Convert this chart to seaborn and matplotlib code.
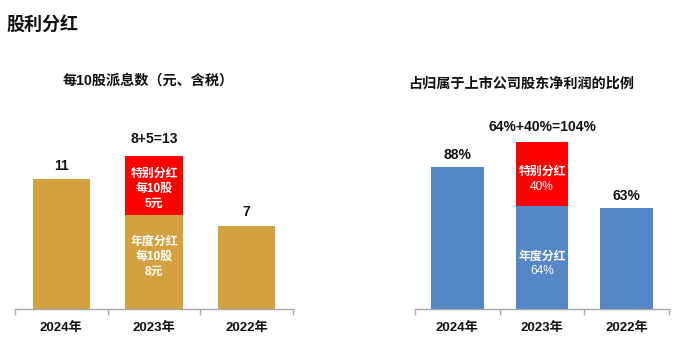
import numpy as np
import pandas as pd
import matplotlib
matplotlib.use("Agg")
import matplotlib.pyplot as plt
import seaborn as sns

sns.set_theme(style="white")
plt.rcParams['font.family'] = ['Liberation Sans', 'Noto Sans CJK SC', 'DejaVu Sans']

years = ['2024年', '2023年', '2022年']
annual_div = [11, 8, 7]        # 每10股派息（元）
special_div = [0, 5, 0]
annual_ratio = [88, 64, 63]    # 占净利润比例（%）
special_ratio = [0, 40, 0]

gold = '#D4A140'
blue = '#5586C6'
red = '#FF0000'

fig = plt.figure(figsize=(6.83, 3.57), dpi=100)
ax1 = fig.add_axes([15 / 683, 1 - 309 / 357, 278 / 683, 177 / 357])
ax2 = fig.add_axes([415 / 683, 1 - 309 / 357, 254 / 683, 177 / 357])


def stacked(ax, base, extra, color, ymax):
    df = pd.DataFrame({'year': years, 'base': base,
                       'total': np.array(base) + np.array(extra)})
    top_colors = [red if e > 0 else color for e in extra]
    sns.barplot(data=df, x='year', y='total', hue='year', palette=top_colors,
                legend=False, width=0.62, ax=ax, saturation=1, linewidth=0)
    sns.barplot(data=df, x='year', y='base', color=color, width=0.62,
                ax=ax, saturation=1, linewidth=0)
    ax.set_ylim(0, ymax)
    ax.set_xlim(-0.5, 2.5)
    ax.set_xlabel('')
    ax.set_ylabel('')
    ax.set_yticks([])
    for s in ['left', 'top', 'right']:
        ax.spines[s].set_visible(False)
    ax.spines['bottom'].set_color('#A6A6A6')
    ax.spines['bottom'].set_linewidth(1)
    ax.set_xticks([0, 1, 2])
    ax.set_xticklabels(years, fontsize=9.5, fontweight='bold', color='#111111')
    ax.set_xticks([-0.5, 0.5, 1.5, 2.5], minor=True)
    ax.tick_params(axis='x', which='major', length=0, pad=9)
    ax.tick_params(axis='x', which='minor', length=4, color='#A6A6A6',
                   width=1, bottom=True)
    return df


stacked(ax1, annual_div, special_div, gold, 15)
stacked(ax2, annual_ratio, special_ratio, blue, 110)

lab = dict(ha='center', va='center', fontsize=10, fontweight='bold', color='#111111')
pxl = 1 / 11.8
ax1.text(0, annual_div[0] + 13 * pxl, f'{annual_div[0]}', **lab)
ax1.text(1, annual_div[1] + special_div[1] + 17 * pxl,
         f'{annual_div[1]}+{special_div[1]}={annual_div[1] + special_div[1]}', **lab)
ax1.text(2, annual_div[2] + 14 * pxl, f'{annual_div[2]}', **lab)


def lines(ax, y, rows, weights):
    # stack text rows 15 px apart around data position y
    n = len(rows)
    for k, (r, w) in enumerate(zip(rows, weights)):
        dy = ((n - 1) / 2 - k) * 15 * 0.72
        ax.annotate(r, (1, y), xytext=(0, dy), textcoords='offset points',
                    ha='center', va='center', fontsize=8.6, fontweight=w,
                    color='white')


lines(ax1, 10.2, ['特别分红', '每10股', f'{special_div[1]}元'], ['bold'] * 3)
lines(ax1, 4.4, ['年度分红', '每10股', f'{annual_div[1]}元'], ['bold'] * 3)

pxr = 1 / 1.61
ax2.text(0, annual_ratio[0] + 12 * pxr, f'{annual_ratio[0]}%', **lab)
ax2.text(1, annual_ratio[1] + special_ratio[1] + 15 * pxr,
         f'{annual_ratio[1]}%+{special_ratio[1]}%={annual_ratio[1] + special_ratio[1]}%', **lab)
ax2.text(2, annual_ratio[2] + 12 * pxr, f'{annual_ratio[2]}%', **lab)

lines(ax2, 80.4, ['特别分红', f'{special_ratio[1]}%'], ['bold', 'normal'])
lines(ax2, 28, ['年度分红', f'{annual_ratio[1]}%'], ['bold', 'normal'])

fig.text(6 / 683, 1 - 25 / 357, '股利分红', ha='left', va='center',
         fontsize=13, fontweight='bold', color='#111111')
fig.text(148 / 683, 1 - 81 / 357, '每10股派息数（元、含税）', ha='center',
         va='center', fontsize=10.2, fontweight='bold', color='#111111')
fig.text(521 / 683, 1 - 84 / 357, '占归属于上市公司股东净利润的比例', ha='center',
         va='center', fontsize=10.2, fontweight='bold', color='#111111')

fig.savefig('out.png', dpi=100)
